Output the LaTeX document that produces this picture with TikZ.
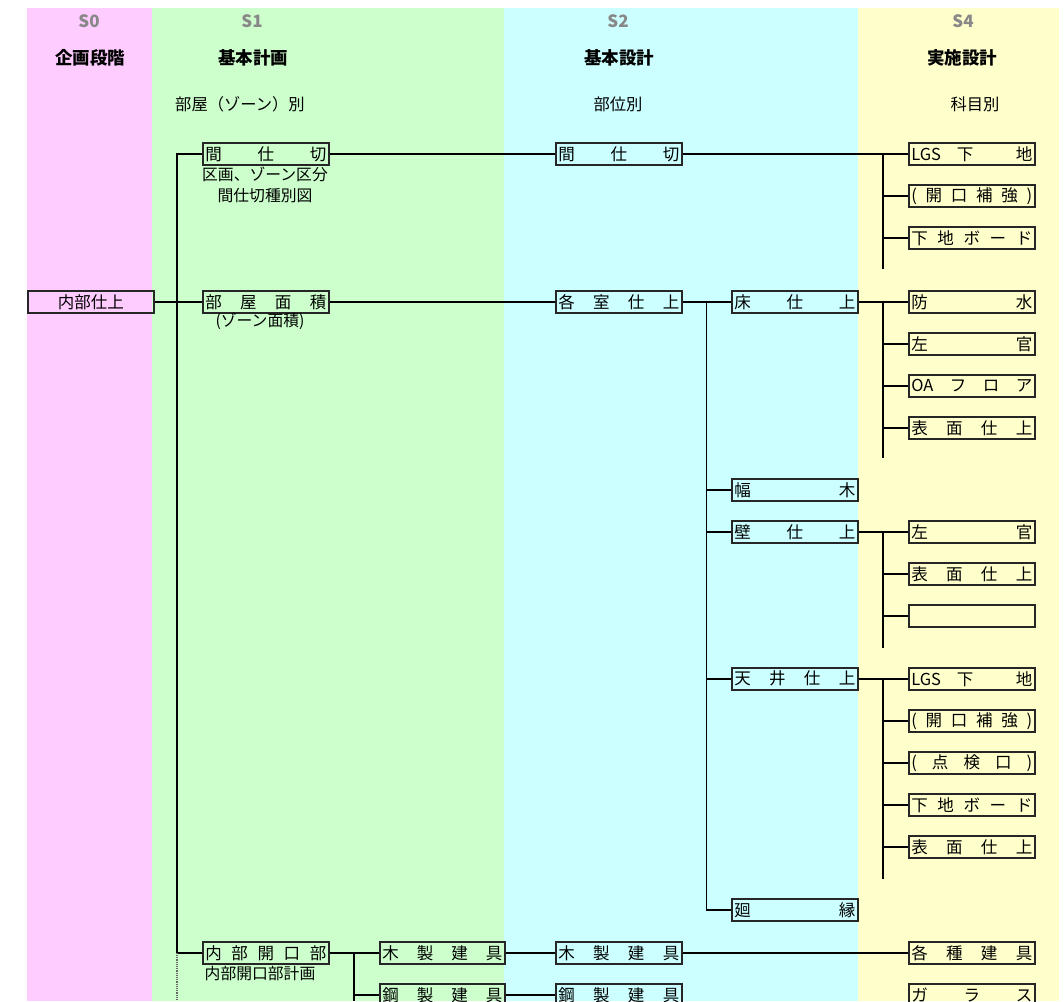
\documentclass[tikz,border=0pt]{standalone}
\usepackage{fontspec}
\setmainfont{Noto Sans CJK JP}
\definecolor{pk}{HTML}{FFCCFF}
\definecolor{gr}{HTML}{CCFFCC}
\definecolor{cy}{HTML}{CCFFFF}
\definecolor{yl}{HTML}{FFFFCC}
\definecolor{hd}{HTML}{888888}
\newcommand\dist[1]{\makebox[121pt][s]{#1}}
\tikzset{
  bx/.style={draw=black!85, line width=1.6pt, minimum width=126pt, minimum height=22pt,
    inner sep=0pt, anchor=north west, font=\fontsize{16.5}{17}\selectfont},
  ln/.style={line width=1.5pt},
  hdS/.style={text=hd, font=\fontsize{17}{18}\selectfont\bfseries, inner sep=0pt},
  ttl/.style={font=\fontsize{17.5}{18}\selectfont\bfseries, inner sep=0pt},
  subt/.style={font=\fontsize{16.3}{17}\selectfont, inner sep=0pt},
  note/.style={font=\fontsize{15.8}{21.5}\selectfont, inner sep=0pt, align=center}
}
\begin{document}
\begin{tikzpicture}[x=1pt,y=-1pt]
\useasboundingbox (0,0) rectangle (1064,1001);
\fill[white] (0,0) rectangle (1064,1001);
\fill[pk] (27,8) rectangle (152,1001);
\fill[gr] (152,8) rectangle (504,1001);
\fill[cy] (504,8) rectangle (858,1001);
\fill[yl] (858,8) rectangle (1059,1001);

% headers
\node[hdS] (s0) at (89,21) {S0};
\node[hdS] (s1) at (252,21) {S1};
\node[hdS] (s2) at (618,21) {S2};
\node[hdS] (s4) at (963,21) {S4};
\node[ttl] (t0) at (90,58) {企画段階};
\node[ttl] (t1) at (253,58) {基本計画};
\node[ttl] (t2) at (619,58) {基本設計};
\node[ttl] (t4) at (962,58) {実施設計};
\node[subt] (u1) at (240,104) {部屋（ゾーン）別};
\node[subt] (u2) at (618,104) {部位別};
\node[subt] (u4) at (975,104) {科目別};

% S0
\node[bx] (naibu) at (27,290) {内部仕上};

% S1
\node[bx] (ms1) at (202,142) {\dist{間\hfill 仕\hfill 切}};
\node[note] (ms1n) at (265,185) {区画、ゾーン区分\\間仕切種別図};
\node[bx] (hs1) at (202,290) {\dist{部\hfill 屋\hfill 面\hfill 積}};
\node[note] (hs1n) at (260,321) {(ゾーン面積)};
\node[bx] (nk) at (202,941) {\dist{内\hfill 部\hfill 開\hfill 口\hfill 部}};
\node[note] (nkn) at (260,973) {内部開口部計画};
\node[bx, minimum width=125pt] (mk1) at (379,941) {\makebox[120pt][s]{木\hfill 製\hfill 建\hfill 具}};
\node[bx, minimum width=125pt] (kk1) at (379,983) {\makebox[120pt][s]{鋼\hfill 製\hfill 建\hfill 具}};

% S2
\node[bx] (ms2) at (555,142) {\dist{間\hfill 仕\hfill 切}};
\node[bx] (ks2) at (555,290) {\dist{各\hfill 室\hfill 仕\hfill 上}};
\node[bx] (yk) at (731,290) {\dist{床\hfill 仕\hfill 上}};
\node[bx] (hb) at (731,478) {\dist{幅\hfill 木}};
\node[bx] (kb) at (731,520) {\dist{壁\hfill 仕\hfill 上}};
\node[bx] (tj) at (731,667) {\dist{天\hfill 井\hfill 仕\hfill 上}};
\node[bx] (me) at (731,898) {\dist{廻\hfill 縁}};
\node[bx] (mk2) at (555,941) {\dist{木\hfill 製\hfill 建\hfill 具}};
\node[bx] (kk2) at (555,983) {\dist{鋼\hfill 製\hfill 建\hfill 具}};

% S4
\node[bx] (a1) at (908,142) {\dist{LGS\hspace{16pt}下\hfill 地}};
\node[bx] (a2) at (908,184) {\dist{(\hfill 開\hfill 口\hfill 補\hfill 強\hfill )}};
\node[bx] (a3) at (908,226) {\dist{下\hfill 地\hfill ボ\hfill ー\hfill ド}};
\node[bx] (b1) at (908,290) {\dist{防\hfill 水}};
\node[bx] (b2) at (908,332) {\dist{左\hfill 官}};
\node[bx] (b3) at (908,374) {\dist{OA\hfill フ\hfill ロ\hfill ア}};
\node[bx] (b4) at (908,416) {\dist{表\hfill 面\hfill 仕\hfill 上}};
\node[bx] (c1) at (908,520) {\dist{左\hfill 官}};
\node[bx] (c2) at (908,562) {\dist{表\hfill 面\hfill 仕\hfill 上}};
\node[bx] (c3) at (908,604) {\dist{\hfill}};
\node[bx] (d1) at (908,667) {\dist{LGS\hspace{16pt}下\hfill 地}};
\node[bx] (d2) at (908,709) {\dist{(\hfill 開\hfill 口\hfill 補\hfill 強\hfill )}};
\node[bx] (d3) at (908,751) {\dist{(\hfill 点\hfill 検\hfill 口\hfill )}};
\node[bx] (d4) at (908,793) {\dist{下\hfill 地\hfill ボ\hfill ー\hfill ド}};
\node[bx] (d5) at (908,835) {\dist{表\hfill 面\hfill 仕\hfill 上}};
\node[bx] (e1) at (908,941) {\dist{各\hfill 種\hfill 建\hfill 具}};
\node[bx] (e2) at (908,983) {\dist{ガ\hfill ラ\hfill ス}};

% trunk ends
\coordinate (tr1end) at (177,1001);
\coordinate (tr2end) at (354,1001);
\coordinate (ea) at (883,269);
\coordinate (eb) at (883,458);
\coordinate (ec) at (883,648);
\coordinate (ed) at (883,879);

% connectors S0/S1
\draw[ln] (naibu.east) -- (hs1.west);
\draw[ln] (ms1.west) -- ++(-25,0) coordinate (tr1) -- (tr1 |- nk.west) coordinate (tr1b) -- (nk.west);
\draw[line width=1.2pt, densely dotted, black!60] (tr1b) -- (tr1end);
\draw[ln] (ms1.east) -- (ms2.west);
\draw[ln] (hs1.east) -- (ks2.west);
\draw[ln] (nk.east) -- (mk1.west);
\draw[ln] (tr2end |- nk.east) -- (tr2end);
\draw[ln] (tr2end |- kk1.west) -- (kk1.west);
\draw[ln] (mk1.east) -- (mk2.west);
\draw[ln] (kk1.east) -- (kk2.west);
\draw[ln] (mk2.east) -- (e1.west);

% S2 trunk
\draw[ln] (ks2.east) -- (yk.west);
\draw[ln] (ks2.east) ++(24,0) coordinate (t2) |- (me.west);
\draw[ln] (t2 |- hb.west) -- (hb.west);
\draw[ln] (t2 |- kb.west) -- (kb.west);
\draw[ln] (t2 |- tj.west) -- (tj.west);

% S4 trunks
\draw[ln] (ms2.east) -- (a1.west);
\draw[ln] (ea |- a1.west) -- (ea);
\draw[ln] (ea |- a2.west) -- (a2.west);
\draw[ln] (ea |- a3.west) -- (a3.west);

\draw[ln] (yk.east) -- (b1.west);
\draw[ln] (eb |- b1.west) -- (eb);
\draw[ln] (eb |- b2.west) -- (b2.west);
\draw[ln] (eb |- b3.west) -- (b3.west);
\draw[ln] (eb |- b4.west) -- (b4.west);

\draw[ln] (kb.east) -- (c1.west);
\draw[ln] (ec |- c1.west) -- (ec);
\draw[ln] (ec |- c2.west) -- (c2.west);
\draw[ln] (ec |- c3.west) -- (c3.west);

\draw[ln] (tj.east) -- (d1.west);
\draw[ln] (ed |- d1.west) -- (ed);
\draw[ln] (ed |- d2.west) -- (d2.west);
\draw[ln] (ed |- d3.west) -- (d3.west);
\draw[ln] (ed |- d4.west) -- (d4.west);
\draw[ln] (ed |- d5.west) -- (d5.west);
\end{tikzpicture}
\end{document}
